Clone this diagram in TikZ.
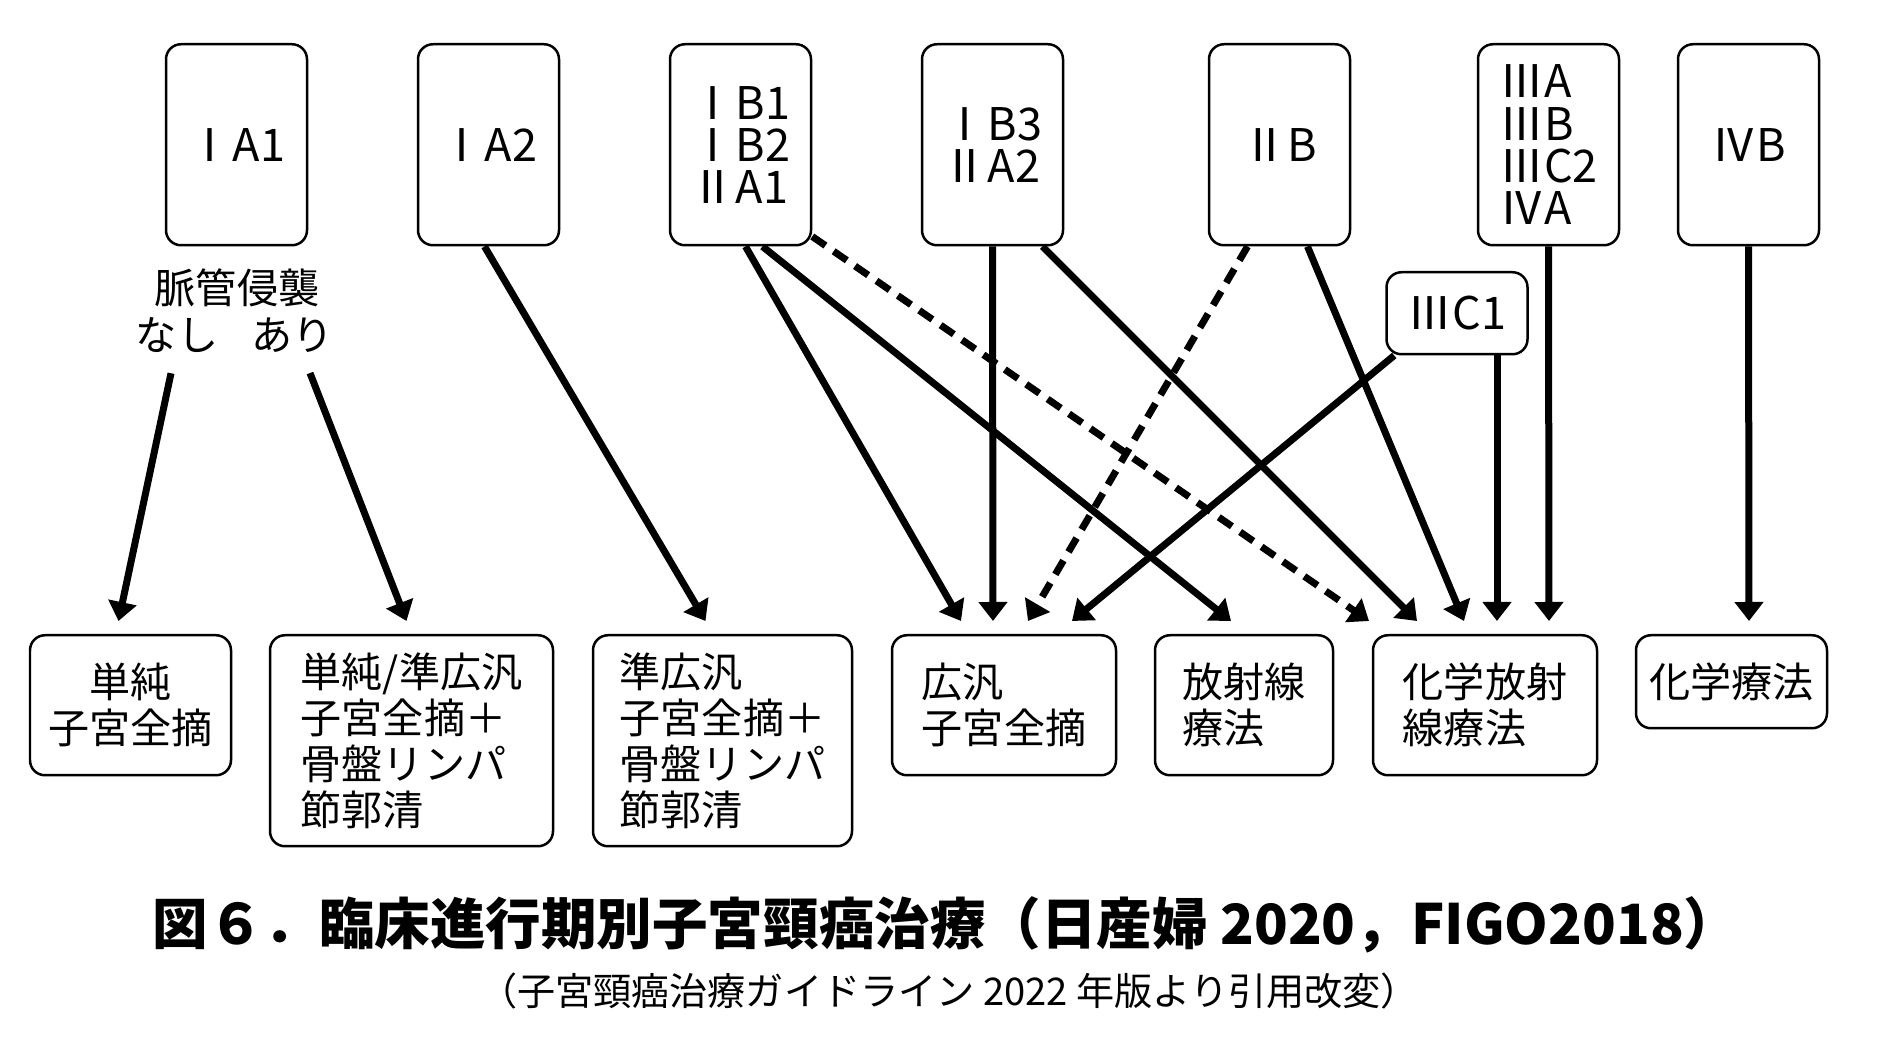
\documentclass[tikz,border=0pt]{standalone}
\usepackage{fontspec}
\setmainfont{Noto Sans CJK JP}
\newfontfamily\stagefont[RawFeature=+palt]{Noto Sans CJK JP}
\usepackage{tikz}
\usetikzlibrary{arrows.meta,positioning,calc}

\tikzset{
    stage/.style={draw, line width=0.025cm, rounded corners=0.15cm, minimum width=1.41cm,
        minimum height=2.01cm, anchor=north, align=left, font=\stagefont\fontsize{12.8}{12}\selectfont},
    treat/.style={draw, line width=0.025cm, rounded corners=0.15cm, anchor=north, align=left,
        font=\fontsize{11.7}{13.1}\selectfont},
    lbl/.style={font=\fontsize{11.7}{13.1}\selectfont},
    arr/.style={line width=0.07cm, -{Triangle[length=0.19cm,width=0.28cm]}},
    dasharr/.style={arr, dash pattern=on 0.16cm off 0.1cm},
}

\begin{document}
\begin{tikzpicture}[scale=1.0]
    \useasboundingbox (0,0) rectangle (18.9,10.39);

    % Stage boxes (top row)
    \foreach \name/\x/\txt in {ia1/2.365/{ⅠA1}, ia2/4.885/{ⅠA2}, ib1/7.405/{ⅠB1\\ⅠB2\\ⅡA1},
        ib3/9.925/{ⅠB3\\ⅡA2}, iib/12.795/{ⅡB}, iiia/15.485/{ⅢA\\ⅢB\\ⅢC2\\ⅣA}, ivb/17.485/{ⅣB}} {
        \node[stage] (\name) at (\x, 9.96) {\txt};
    }
    \node[stage, minimum height=0.82cm] (iiic1) at (14.57, 7.68) {ⅢC1};

    % Lymphovascular invasion label under IA1
    \node[lbl] (lvsi) at (2.37, 7.51) {脈管侵襲};
    \node[lbl, inner sep=0.2cm] (nashi) at (1.77, 7.04) {なし};
    \node[lbl, inner sep=0.2cm] (ari) at (2.93, 7.04) {あり};

    % Treatment boxes (bottom row)
    \node[treat, align=center, minimum width=2.01cm, minimum height=1.40cm] (simple) at (1.305, 4.05) {単純\\子宮全摘};
    \node[treat, minimum width=2.83cm, minimum height=2.11cm] (modrad) at (4.115, 4.05) {単純/準広汎\\子宮全摘＋\\骨盤リンパ\\節郭清};
    \node[treat, minimum width=2.59cm, minimum height=2.11cm] (semirad) at (7.225, 4.05) {準広汎\\子宮全摘＋\\骨盤リンパ\\節郭清};
    \node[treat, minimum width=2.24cm, minimum height=1.40cm] (radical) at (10.04, 4.05) {広汎\\子宮全摘};
    \node[treat, minimum width=1.78cm, minimum height=1.40cm] (rt) at (12.44, 4.05) {放射線\\療法};
    \node[treat, minimum width=2.24cm, minimum height=1.40cm] (ccrt) at (14.85, 4.05) {化学放射\\線療法};
    \node[treat, minimum width=1.91cm, minimum height=0.93cm] (chemo) at (17.315, 4.05) {化学療法};

    % Arrows
    \draw[arr] ([xshift=-0.06cm]nashi.south) -- ([xshift=-0.12cm,yshift=0.13cm]simple.north);
    \draw[arr] ([xshift=0.17cm]ari.south) -- ([xshift=-0.05cm,yshift=0.13cm]modrad.north);
    \draw[arr] ([xshift=-0.04cm]ia2.south) -- ([xshift=-0.17cm,yshift=0.13cm]semirad.north);
    \draw[arr] ([xshift=0.05cm]ib1.south) -- ([xshift=-0.43cm,yshift=0.13cm]radical.north);
    \draw[arr] ([xshift=0.22cm]ib1.south) -- ([xshift=-0.13cm,yshift=0.13cm]rt.north);
    \draw[dasharr] ([yshift=0.1cm]ib1.south east) -- ([xshift=-1.16cm,yshift=0.13cm]ccrt.north);
    \draw[arr] (ib3.south) -- ([xshift=-0.11cm,yshift=0.13cm]radical.north);
    \draw[arr] ([xshift=0.5cm]ib3.south) -- ([xshift=-0.68cm,yshift=0.13cm]ccrt.north);
    \draw[dasharr] ([xshift=-0.32cm]iib.south) -- ([xshift=0.24cm,yshift=0.13cm]radical.north);
    \draw[arr] ([xshift=0.28cm]iib.south) -- ([xshift=-0.21cm,yshift=0.13cm]ccrt.north);
    \draw[arr] ([xshift=0.09cm]iiic1.south west) -- ([xshift=0.68cm,yshift=0.13cm]radical.north);
    \draw[arr] ([xshift=0.4cm]iiic1.south) -- ([xshift=0.12cm,yshift=0.13cm]ccrt.north);
    \draw[arr] (iiia.south) -- ([xshift=0.64cm,yshift=0.13cm]ccrt.north);
    \draw[arr] (ivb.south) -- ([xshift=0.175cm,yshift=0.13cm]chemo.north);

    % Caption
    \node[font=\bfseries\fontsize{15.8}{18}\selectfont] (title) at (9.46, 1.14) {図６．臨床進行期別子宮頸癌治療（日産婦 2020，FIGO2018）};
    \node[font=\fontsize{10.85}{12}\selectfont] (source) at (9.49, 0.48) {（子宮頸癌治療ガイドライン 2022 年版より引用改変）};
\end{tikzpicture}
\end{document}
